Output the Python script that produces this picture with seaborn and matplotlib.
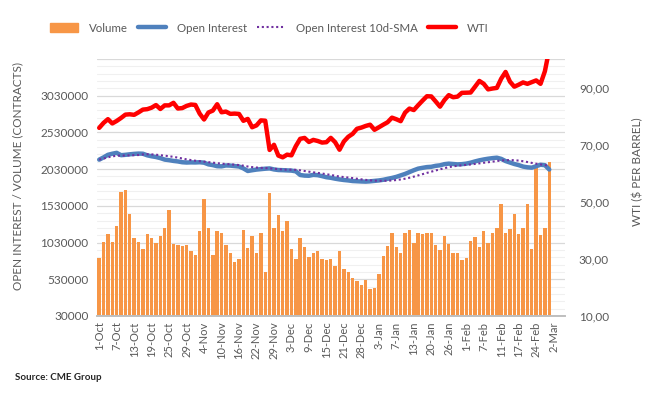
import numpy as np
import pandas as pd
import matplotlib
matplotlib.use("Agg")
import matplotlib.pyplot as plt
from matplotlib.patches import Patch
from matplotlib.lines import Line2D
import seaborn as sns

# ---------------- data ----------------
holidays = ["2021-11-25", "2021-12-24", "2022-01-17", "2022-02-21"]
dates = pd.bdate_range("2021-10-01", "2022-03-04", freq="C", holidays=holidays)
date_labels = [f"{d.day}-{d.strftime('%b')}" for d in dates]

volume = [814, 1031, 1140, 1031, 1262, 1724, 1751, 1425, 1099, 1031,
          936, 1140, 1099, 1018, 1126, 1235, 1480, 1004, 991, 977,
          991, 909, 855, 1194, 1629, 1222, 855, 1181, 1167, 991,
          882, 760, 800, 1208, 950, 1126, 882, 1167, 624, 1711,
          1235, 1412, 1181, 1330, 936, 800, 1086, 963, 827, 882,
          909, 800, 789, 804, 707, 911, 667, 626, 544, 503,
          449, 517, 395, 408, 599, 843, 979, 1156, 966, 882,
          1167, 1208, 1018, 1167, 1140, 1167, 1167, 991, 923, 1113,
          1004, 882, 882, 787, 814, 1045, 1110, 975, 1181, 1018,
          1167, 1222, 1550, 1154, 1210, 1414, 1140, 1235, 1561, 938,
          2048, 1128, 1222, 2131]
volume = [v * 1000 for v in volume]

open_interest = [2159, 2190, 2225, 2240, 2252, 2220, 2225, 2232, 2238, 2242,
                 2240, 2218, 2205, 2195, 2180, 2160, 2152, 2142, 2135, 2124,
                 2120, 2122, 2121, 2124, 2118, 2095, 2085, 2070, 2068, 2080,
                 2078, 2072, 2066, 2040, 2005, 2015, 2024, 2030, 2036, 2040,
                 2026, 2018, 2016, 2013, 2010, 2000, 1950, 1942, 1940, 1952,
                 1948, 1935, 1920, 1912, 1900, 1890, 1882, 1876, 1868, 1865,
                 1862, 1860, 1864, 1870, 1876, 1885, 1898, 1910, 1925, 1945,
                 1965, 1990, 2015, 2037, 2048, 2058, 2062, 2075, 2082, 2098,
                 2105, 2100, 2095, 2098, 2105, 2118, 2135, 2150, 2162, 2172,
                 2180, 2186, 2170, 2140, 2120, 2100, 2085, 2065, 2055, 2050,
                 2070, 2090, 2084, 2025]
open_interest = [v * 1000 for v in open_interest]

wti = [75.88, 77.62, 78.93, 77.43, 78.30, 79.35, 80.52, 80.64, 80.44, 81.31,
       82.28, 82.44, 82.96, 83.87, 82.50, 83.76, 83.76, 84.65, 82.66, 82.81,
       83.57, 84.05, 83.91, 80.86, 78.81, 81.27, 81.93, 84.15, 81.34, 81.59,
       80.79, 80.88, 80.76, 78.36, 79.01, 76.10, 76.75, 78.50, 78.39, 68.15,
       69.95, 66.18, 65.57, 66.50, 66.26, 69.49, 72.05, 72.36, 70.94, 71.67,
       71.29, 70.73, 70.87, 72.38, 70.86, 68.23, 71.12, 72.76, 73.79, 75.57,
       75.98, 76.56, 76.99, 75.21, 76.08, 76.99, 77.85, 79.46, 78.90, 78.23,
       81.22, 82.64, 82.12, 83.82, 85.43, 86.96, 86.90, 85.14, 83.31, 85.60,
       87.35, 86.61, 86.82, 88.15, 88.20, 88.26, 90.27, 92.31, 91.32, 89.36,
       89.66, 89.88, 93.10, 95.46, 92.07, 90.30, 91.00, 91.80, 91.30, 91.90,
       92.50, 91.30, 95.72, 103.41, 110.60]

# ---------------- frames ----------------
n_cat = len(dates)
vol_df = pd.DataFrame({"pos": np.arange(len(volume)), "volume": volume})
oi_df = pd.DataFrame({"pos": np.arange(len(open_interest)), "oi": open_interest})
oi_df["sma"] = oi_df["oi"].rolling(10, min_periods=1).mean()
wti_df = pd.DataFrame({"pos": np.arange(len(wti)), "wti": wti})

# ---------------- style ----------------
sns.set_theme(style="white")
plt.rcParams["font.family"] = ["Lato", "DejaVu Sans"]
TXT = "#595959"
ORANGE = "#F79646"
BLUE = "#4F81BD"
PURPLE = "#7030A0"
RED = "#FF0000"

fig = plt.figure(figsize=(6.56, 3.98), dpi=100)
ax = fig.add_axes([97 / 656, 1 - 316 / 398, (565 - 97) / 656, (316 - 59) / 398])
ax2 = ax.twinx()

# gridlines
for y in np.arange(30000, 3530001, 100000):
    major = (y - 30000) % 500000 == 0
    ax.axhline(y, color="#d9d9d9" if major else "#f0f0f0", lw=0.9 if major else 0.8, zorder=0)

sns.barplot(data=vol_df, x="pos", y="volume", native_scale=True, color=ORANGE,
            width=0.78, saturation=1, ax=ax, zorder=2, edgecolor="none", linewidth=0)
sns.lineplot(data=oi_df, x="pos", y="oi", color=BLUE, lw=3.2, ax=ax, estimator=None,
             solid_capstyle="round", zorder=3)
sns.lineplot(data=oi_df, x="pos", y="sma", color=PURPLE, lw=1.5, ax=ax, estimator=None,
             linestyle=(0, (1, 1.3)), zorder=4)
sns.lineplot(data=wti_df, x="pos", y="wti", color=RED, lw=3.2, ax=ax2, estimator=None,
             solid_capstyle="round", zorder=3)

ax.set_xlim(-0.5, n_cat - 0.4)
ax.set_ylim(30000, 3530000)
ax2.set_ylim(10, 100)

ax.set_yticks(np.arange(30000, 3030001, 500000))
ax.set_yticklabels([str(v) for v in range(30000, 3030001, 500000)])
ax2.set_yticks([10, 30, 50, 70, 90])
ax2.set_yticklabels(["10,00", "30,00", "50,00", "70,00", "90,00"])

tick_pos = list(range(0, 105, 4))
ax.set_xticks(tick_pos)
ax.set_xticklabels([date_labels[i] for i in tick_pos], rotation=90)
ax.set_xticks(np.arange(-0.5, n_cat, 1.0), minor=True)
ax.tick_params(axis="x", which="major", length=0, pad=4, labelsize=8, colors=TXT)
ax.tick_params(axis="x", which="minor", length=4, width=0.8, color="#bfbfbf")
ax.tick_params(axis="y", length=0, labelsize=8.5, colors=TXT, pad=6)
ax2.tick_params(axis="y", length=0, labelsize=8.5, colors=TXT, pad=10)

for a in (ax, ax2):
    for s in ("top", "left", "right"):
        a.spines[s].set_visible(False)
    a.spines["bottom"].set_color("#bfbfbf")
    a.grid(False)

ax.set_xlabel("")
ax.set_ylabel("OPEN INTEREST / VOLUME (CONTRACTS)", fontsize=8.5, color=TXT)
ax.yaxis.set_label_coords(-0.158, 0.545)
ax2.set_ylabel("WTI ($ PER BARREL)", fontsize=8.5, color=TXT)
ax2.yaxis.set_label_coords(1.143, 0.56)

handles = [Patch(color=ORANGE),
           Line2D([], [], color=BLUE, lw=3.2, solid_capstyle="round"),
           Line2D([], [], color=PURPLE, lw=1.5, linestyle=(0, (1, 1.3))),
           Line2D([], [], color=RED, lw=3.2, solid_capstyle="round")]
labels = ["Volume", "Open Interest", "Open Interest 10d-SMA", "WTI"]
fig.legend(handles, labels, loc="center", bbox_to_anchor=(269 / 656, 1 - 28 / 398), ncol=4,
           frameon=False, fontsize=8.3, handlelength=2.5, handletextpad=0.9,
           columnspacing=0.85, labelcolor=TXT)

fig.text(15 / 656, 1 - 378 / 398, "Source: CME Group", fontsize=7, fontweight="bold",
         color="#262626", va="center", ha="left")

fig.savefig("out.png", dpi=100, facecolor="white")
